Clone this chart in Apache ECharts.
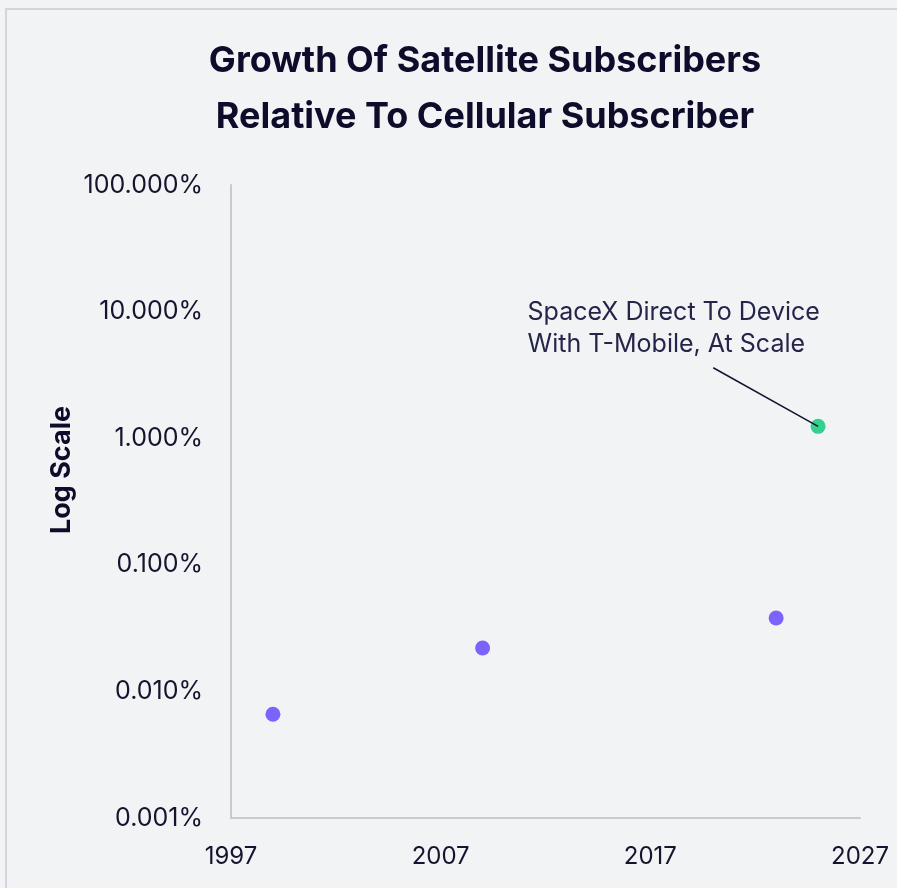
<!DOCTYPE html>
<html>
<head>
<meta charset="utf-8">
<script src="https://cdn.jsdelivr.net/npm/echarts@6/dist/echarts.min.js"></script>
<style>
html,body{margin:0;padding:0;background:#f2f3f5;}
#chart{width:897px;height:888px;}
</style>
</head>
<body>
<div id="chart"></div>
<script>
const titleLines = ['Growth Of Satellite Subscribers', 'Relative To Cellular Subscriber'];
const yAxisName = 'Log Scale';
const xTicks = [1997, 2007, 2017, 2027];
const yTicks = [0.001, 0.01, 0.1, 1, 10, 100];
const satelliteYears = [1999, 2009, 2023];
const satelliteValues = [0.0066, 0.022, 0.038];
const spacexYears = [2025];
const spacexValues = [1.24];
const annotationText = ['SpaceX Direct To Device', 'With T-Mobile, At Scale'];
const annotationAnchor = [2020, 3.6];

const FONT = 'Inter';
const TEXT = '#14142e';

const chart = echarts.init(document.getElementById('chart'));
chart.setOption({
  backgroundColor: '#f2f3f5',
  animation: false,
  title: {
    text: titleLines.join('\n'),
    left: 480, textAlign: 'center',
    top: 28,
    textStyle: {fontFamily: FONT, fontWeight: 'bold', fontSize: 36, lineHeight: 56, color: '#0d0d2b'}
  },
  graphic: [{
    type: 'rect', shape: {x: 6, y: 9, width: 1000, height: 1000},
    style: {fill: 'none', stroke: '#d4d5da', lineWidth: 2}, silent: true
  }, {
    type: 'text', x: 62, y: 470, rotation: Math.PI / 2,
    style: {text: yAxisName, fontFamily: FONT, fontWeight: 'bold', fontSize: 27, fill: '#0d0d2b',
      align: 'center', verticalAlign: 'middle'}
  }],
  grid: {left: 231, right: 37, top: 185, bottom: 70},
  xAxis: {
    type: 'value', min: xTicks[0], max: xTicks[xTicks.length - 1], interval: 10,
    splitLine: {show: false},
    axisLine: {lineStyle: {color: '#c9cad0', width: 2}},
    axisTick: {show: false},
    axisLabel: {formatter: v => String(v), fontFamily: FONT, fontSize: 24, color: TEXT, margin: 27}
  },
  yAxis: {
    type: 'log', logBase: 10, min: yTicks[0], max: yTicks[yTicks.length - 1],
    splitLine: {show: false},
    axisLine: {show: true, lineStyle: {color: '#c9cad0', width: 2}},
    axisTick: {show: false},
    axisLabel: {formatter: v => Number(v).toFixed(3) + '%', fontFamily: FONT, fontSize: 25, color: TEXT, margin: 28}
  },
  series: [{
    type: 'scatter', symbolSize: 15,
    itemStyle: {color: '#7b63fb', opacity: 1},
    data: satelliteYears.map((y, i) => [y, satelliteValues[i]])
  }, {
    type: 'scatter', symbolSize: 15,
    itemStyle: {color: '#34d08f', opacity: 1},
    data: spacexYears.map((y, i) => [y, spacexValues[i]]),
    label: {
      show: true, position: [-283, -122], align: 'left', verticalAlign: 'top',
      formatter: annotationText.join('\n'),
      fontFamily: FONT, fontSize: 25, lineHeight: 32, color: '#25254a', opacity: 1
    },
    markLine: {
      silent: true, symbol: ['none', 'none'], animation: false,
      lineStyle: {color: TEXT, width: 1.5, type: 'solid', opacity: 1},
      label: {show: false},
      data: [[{coord: [spacexYears[0], spacexValues[0]]}, {coord: annotationAnchor}]]
    }
  }]
});
</script>
</body>
</html>
